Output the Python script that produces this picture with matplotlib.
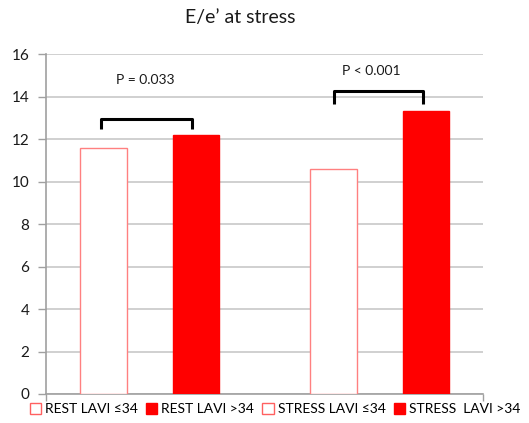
import matplotlib
matplotlib.use("Agg")
import matplotlib.pyplot as plt
from matplotlib.patches import Patch

plt.rcParams['font.family'] = ['Lato', 'DejaVu Sans']

series = ["REST LAVI \u226434", "REST LAVI >34", "STRESS LAVI \u226434", "STRESS  LAVI >34"]
values = [11.6, 12.2, 10.6, 13.3]
filled = [False, True, False, True]
positions = [0.526, 1.375, 2.632, 3.478]
p_labels = ["P = 0.033", "P < 0.001"]
yticks = [0, 2, 4, 6, 8, 10, 12, 14, 16]

RED = "#ff0000"
fig = plt.figure(figsize=(5.29, 4.23), dpi=100)
ax = fig.add_axes([0.087, 0.0686, 0.826, 0.8034])

handles = []
for x, v, f, s in zip(positions, values, filled, series):
    ax.bar(x, v, width=0.425, color=RED if f else "white",
           edgecolor="#ff8080" if not f else RED, linewidth=1.0, zorder=3)
    handles.append(Patch(facecolor=RED if f else "white",
                         edgecolor=RED if f else "#ff6060", linewidth=1.0, label=s))

ax.set_xlim(0, 4)
ax.set_ylim(0, 16)
ax.set_yticks(yticks)
ax.set_yticklabels([str(t) for t in yticks], fontsize=11, color="#1a1a1a")
ax.set_xticks([0, 4])
ax.set_xticklabels([])
ax.tick_params(axis='y', length=6, color="#a0a0a0", width=1, pad=6)
ax.tick_params(axis='x', length=5, color="#a0a0a0", width=1)
ax.grid(axis='y', color="#c8c8c8", linewidth=1.2, zorder=0)
for sp in ["top", "right"]:
    ax.spines[sp].set_visible(False)
for sp in ["left", "bottom"]:
    ax.spines[sp].set_color("#a0a0a0")
    ax.spines[sp].set_linewidth(1.2)

# significance brackets
brackets = [(0.50, 1.334, 12.95, 12.48), (2.64, 3.45, 14.25, 13.65)]
text_pos = [(0.91, 14.8), (2.98, 15.2)]
for (x0, x1, top, bot), lab, (tx, ty) in zip(brackets, p_labels, text_pos):
    ax.plot([x0, x0, x1, x1], [bot, top, top, bot], color="black", lw=2.2,
            solid_joinstyle="round", solid_capstyle="butt", zorder=4, clip_on=False)
    ax.text(tx, ty, lab, ha="center", va="center", fontsize=10, color="#1a1a1a")

fig.text(0.455, 0.958, "E/e\u2019 at stress", ha="center", va="center", fontsize=14, color="#1a1a1a")

fig.legend(handles=handles, loc="center", bbox_to_anchor=(0.52, 0.033), ncol=4,
           frameon=False, fontsize=10, handlelength=0.8, handleheight=0.8,
           handletextpad=0.3, columnspacing=0.6, borderaxespad=0)

fig.savefig("out.png", dpi=100)
